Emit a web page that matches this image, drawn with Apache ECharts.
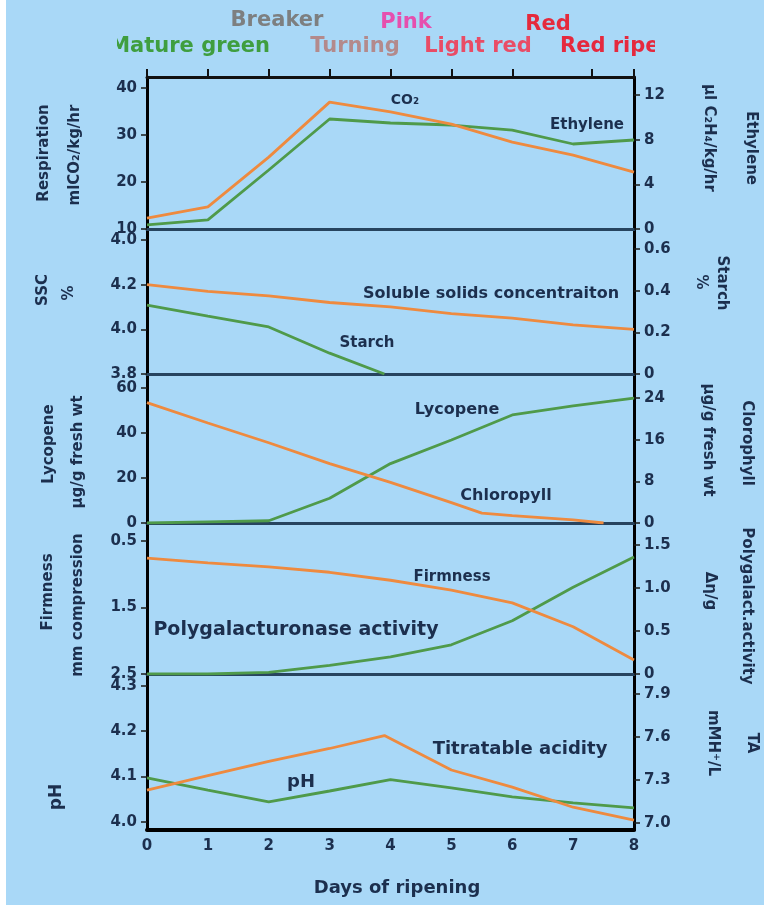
<!DOCTYPE html>
<html>
<head>
<meta charset="utf-8">
<script src="https://cdn.jsdelivr.net/npm/echarts@6/dist/echarts.min.js"></script>
<style>
  html, body { margin: 0; padding: 0; background: #fff; }
  #bg { position: absolute; left: 6px; top: 0; width: 758px; height: 905px; background: #a9d8f7; }
  #chart { position: absolute; left: 0; top: 0; width: 764px; height: 917px; }
</style>
</head>
<body>
<div id="bg"></div>
<div id="chart"></div>
<script>
// days of ripening
const days = [0, 1, 2, 3, 4, 5, 6, 7, 8]
// ripening stage marks on the top axis
const stageTicks = [0, 1, 2, 3, 4, 5, 6, 7.3, 8]

// panel 1: respiration (CO2) and ethylene
const co2 = [12.3, 14.7, 25.3, 37.0, 34.9, 32.3, 28.5, 25.7, 22.1]
const ethylene = [0.36, 0.81, 5.28, 9.85, 9.49, 9.31, 8.86, 7.61, 7.97]
// panel 2: soluble solids and starch
const ssc = [4.20, 4.17, 4.15, 4.12, 4.10, 4.07, 4.05, 4.02, 4.00]
const starchDays = [0, 1, 2, 3, 3.9]
const starch = [0.331, 0.278, 0.226, 0.10, 0]
// panel 3: lycopene and chlorophyll
const lycopene = [0, 0.5, 1, 11, 26.4, 36.9, 48, 52, 55.5]
const chloroDays = [0, 1, 2, 3, 4, 5, 5.5, 6, 7, 7.5]
const chlorophyll = [23.1, 19.2, 15.4, 11.4, 7.8, 3.9, 1.9, 1.4, 0.6, 0]
// panel 4: firmness and polygalacturonase
const firmness = [0.756, 0.83, 0.89, 0.97, 1.09, 1.24, 1.43, 1.79, 2.29]
const pgActivity = [0, 0, 0.02, 0.1, 0.2, 0.34, 0.62, 1.01, 1.36]
// panel 5: pH and titratable acidity
const ph = [4.097, 4.07, 4.044, 4.068, 4.093, 4.075, 4.055, 4.042, 4.031]
const taDays = [0, 1, 2, 3, 3.9, 5, 6, 7, 8]
const ta = [7.23, 7.33, 7.43, 7.52, 7.61, 7.37, 7.25, 7.11, 7.02]

// tick values and their printed labels
const respTicks = [10, 20, 30, 40]
const respText = ['10', '20', '30', '40']
const ethTicks = [0, 4, 8, 12]
const ethText = ['0', '4', '8', '12']
const sscTicks = [3.8, 4.0, 4.2, 4.4]
const sscText = ['3.8', '4.0', '4.2', '4.0']
const starchTicks = [0, 0.2, 0.4, 0.6]
const starchText = ['0', '0.2', '0.4', '0.6']
const lycTicks = [0, 20, 40, 60]
const lycText = ['0', '20', '40', '60']
const chlTicks = [0, 8, 16, 24]
const chlText = ['0', '8', '16', '24']
const firmTicks = [0.5, 1.5, 2.5]
const firmText = ['0.5', '1.5', '2.5']
const pgTicks = [0, 0.5, 1.0, 1.5]
const pgText = ['0', '0.5', '1.0', '1.5']
const phTicks = [4.0, 4.1, 4.2, 4.3]
const phText = ['4.0', '4.1', '4.2', '4.3']
const taTicks = [7.0, 7.3, 7.6, 7.9]
const taText = ['7.0', '7.3', '7.6', '7.9']

const FONT = '"DejaVu Sans", "Liberation Sans", sans-serif'
const NAVY = '#1c2f4e'
const ORANGE = '#ee8a3f'
const GREEN = '#4f9a4a'
const SKY = '#a9d8f7'

const chart = echarts.init(document.getElementById('chart'))

// grid pixel bands (top, bottom)
const bands = [[77, 229], [229, 374], [374, 523], [523, 674], [674, 830]]

function pairs(xs, ys) {
  return xs.map((x, i) => [x, ys[i]])
}

function yAxisOf(grid, pos, min, max, ticks, text, inverse) {
  return {
    type: 'value',
    gridIndex: grid,
    position: pos,
    min: min,
    max: max,
    inverse: !!inverse,
    splitLine: { show: false },
    axisLine: { show: true, onZero: false, lineStyle: { color: '#000', width: 3 } },
    axisTick: { show: true, customValues: ticks, length: 6, lineStyle: { color: '#1a1a1a', width: 1.5 } },
    axisLabel: {
      customValues: ticks,
      color: NAVY,
      fontFamily: FONT,
      fontWeight: 'bold',
      fontSize: 15,
      margin: 10,
      formatter: v => text[ticks.indexOf(v)]
    }
  }
}

function xAxisOf(grid, last) {
  return {
    type: 'value',
    gridIndex: grid,
    min: 0,
    max: 8,
    interval: 1,
    splitLine: { show: false },
    axisLine: { show: true, onZero: false, lineStyle: { color: last ? '#000' : '#27445f', width: last ? 4 : 3 } },
    axisTick: { show: false },
    axisLabel: {
      show: !!last,
      color: NAVY,
      fontFamily: FONT,
      fontWeight: 'bold',
      fontSize: 15,
      margin: 9
    }
  }
}

function line(name, data, xi, yi, color) {
  return {
    name: name,
    type: 'line',
    xAxisIndex: xi,
    yAxisIndex: yi,
    data: data,
    showSymbol: false,
    symbol: 'none',
    lineStyle: { color: color, width: 2.8 },
    itemStyle: { color: color },
    z: 3
  }
}

function txt(text, x, y, size, color, rot, align) {
  return {
    type: 'text',
    x: x,
    y: y,
    rotation: rot || 0,
    z: 20,
    style: {
      text: text,
      fill: color || NAVY,
      font: 'bold ' + size + 'px ' + FONT,
      align: align || 'center',
      verticalAlign: 'middle',
      textAlign: align || 'center',
      textVerticalAlign: 'middle'
    }
  }
}

const UP = Math.PI / 2
const DOWN = -Math.PI / 2

const option = {
  animation: false,
  backgroundColor: 'transparent',
  grid: bands.map(b => ({ left: 147, right: 130, top: b[0], height: b[1] - b[0] })),
  xAxis: [
    xAxisOf(0), xAxisOf(1), xAxisOf(2), xAxisOf(3), xAxisOf(4, true),
    {
      type: 'value',
      gridIndex: 0,
      position: 'top',
      min: 0,
      max: 8,
      splitLine: { show: false },
      axisLine: { show: true, onZero: false, lineStyle: { color: '#111', width: 3 } },
      axisTick: { show: true, customValues: stageTicks, length: 8, lineStyle: { color: '#111', width: 2 } },
      axisLabel: { show: false }
    }
  ],
  yAxis: [
    yAxisOf(0, 'left', 10, 42.34, respTicks, respText),
    yAxisOf(0, 'right', 0, 13.61, ethTicks, ethText),
    yAxisOf(1, 'left', 3.8, 4.449, sscTicks, sscText),
    yAxisOf(1, 'right', 0, 0.696, starchTicks, starchText),
    yAxisOf(2, 'left', 0, 66.2, lycTicks, lycText),
    yAxisOf(2, 'right', 0, 28.6, chlTicks, chlText),
    yAxisOf(3, 'left', 0.229, 2.5, firmTicks, firmText, true),
    yAxisOf(3, 'right', 0, 1.756, pgTicks, pgText),
    yAxisOf(4, 'left', 3.982, 4.326, phTicks, phText),
    yAxisOf(4, 'right', 6.951, 8.04, taTicks, taText)
  ],
  series: [
    line('Ethylene', pairs(days, ethylene), 0, 1, GREEN),
    line('CO2', pairs(days, co2), 0, 0, ORANGE),
    line('Starch', pairs(starchDays, starch), 1, 3, GREEN),
    line('SSC', pairs(days, ssc), 1, 2, ORANGE),
    line('Lycopene', pairs(days, lycopene), 2, 4, GREEN),
    line('Chlorophyll', pairs(chloroDays, chlorophyll), 2, 5, ORANGE),
    line('Polygalacturonase', pairs(days, pgActivity), 3, 7, GREEN),
    line('Firmness', pairs(days, firmness), 3, 6, ORANGE),
    line('pH', pairs(days, ph), 4, 8, GREEN),
    line('TA', pairs(taDays, ta), 4, 9, ORANGE)
  ],
  graphic: [
    // ripening stages
    txt('Breaker', 277, 21, 21, '#7d7f80'),
    txt('Pink', 406, 23, 21, '#e64fae'),
    txt('Red', 548, 25, 21, '#e52a3c'),
    txt('Mature green', 270, 47, 21, '#3f9e3f', 0, 'right'),
    txt('Turning', 355, 47, 21, '#b38a8c'),
    txt('Light red', 478, 47, 21, '#e94c66'),
    txt('Red ripe', 560, 47, 21, '#e5293e', 0, 'left'),
    { type: 'rect', z: 21, shape: { x: 80, y: 32, width: 37, height: 30 }, style: { fill: SKY } },
    { type: 'rect', z: 21, shape: { x: 655, y: 32, width: 30, height: 30 }, style: { fill: SKY } },

    // left axis titles
    txt('Respiration', 44, 153, 15, NAVY, UP),
    txt('mlCO\u2082/kg/hr', 75, 155, 15, NAVY, UP),
    txt('SSC', 43, 290, 15, NAVY, UP),
    txt('%', 69, 293, 15, NAVY, UP),
    txt('Lycopene', 49, 444, 15, NAVY, UP),
    txt('\u00b5g/g fresh wt', 78, 452, 15, NAVY, UP),
    txt('Firmness', 48, 592, 15, NAVY, UP),
    txt('mm compression', 78, 605, 15, NAVY, UP),
    txt('pH', 57, 797, 17, NAVY, UP),

    // right axis titles
    txt('Ethylene', 751, 148, 15, NAVY, DOWN),
    txt('\u00b5l C\u2082H\u2084/kg/hr', 709, 138, 15, NAVY, DOWN),
    txt('Starch', 722, 283, 15, NAVY, DOWN),
    txt('%', 701, 282, 15, NAVY, DOWN),
    txt('Clorophyll', 747, 443, 15, NAVY, DOWN),
    txt('\u00b5g/g fresh wt', 708, 440, 15, NAVY, DOWN),
    txt('Polygalact.activity', 747, 606, 15, NAVY, DOWN),
    txt('\u0394\u03b7/g', 710, 591, 15, NAVY, DOWN),
    txt('TA', 752, 743, 15, NAVY, DOWN),
    txt('mMH\u207a/L', 713, 743, 15, NAVY, DOWN),

    // curve annotations
    txt('CO\u2082', 405, 100, 14, NAVY),
    txt('Ethylene', 587, 125, 15, NAVY),
    txt('Soluble solids concentraiton', 491, 294, 16, NAVY),
    txt('Starch', 367, 343, 15, NAVY),
    txt('Lycopene', 457, 410, 16, NAVY),
    txt('Chloropyll', 506, 496, 16, NAVY),
    txt('Firmness', 452, 577, 15, NAVY),
    txt('Polygalacturonase activity', 296, 630, 19, NAVY),
    txt('pH', 301, 782, 18, NAVY),
    txt('Titratable acidity', 520, 749, 18, NAVY),
    txt('Days of ripening', 397, 888, 18, NAVY)
  ]
}

chart.setOption(option)
</script>
</body>
</html>
